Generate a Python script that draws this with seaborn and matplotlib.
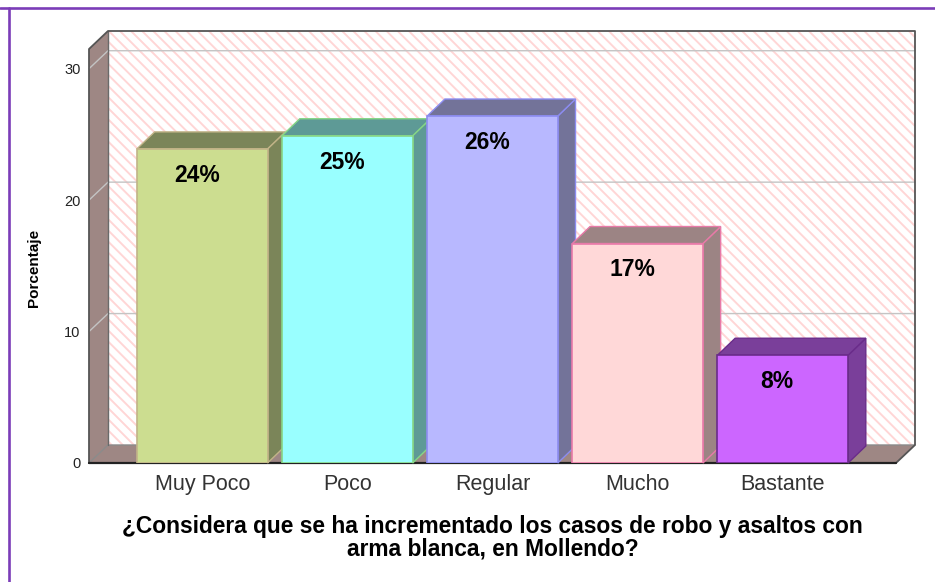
"""Grafico de barras 3D estilo SPSS: incremento de robos con arma blanca."""

import matplotlib
matplotlib.use("Agg")
import matplotlib.pyplot as plt
from matplotlib.lines import Line2D
from matplotlib.patches import Polygon, Rectangle
import seaborn as sns

categorias = ["Muy Poco", "Poco", "Regular", "Mucho", "Bastante"]
porcentajes = [23.9, 24.9, 26.4, 16.7, 8.2]
etiquetas = [f"{v:.0f}%" for v in porcentajes]
marcas_y = [0, 10, 20, 30]

color_frente = ["#CCDD90", "#99FFFF", "#B8B8FF", "#FFD8D8", "#CC66FF"]
color_lado = ["#7B8559", "#5E9A96", "#737399", "#9C8484", "#7A3F9A"]
color_borde = ["#C2B488", "#86D686", "#8C8CF0", "#E87AA8", "#6A2C8A"]
MURO = "#9E8784"
TRAMA = "#FFD6D6"
MARCO = "#7B3DB8"

sns.set_theme(style="white")
plt.rcParams["font.family"] = ["Liberation Sans", "DejaVu Sans"]
plt.rcParams["hatch.linewidth"] = 1.4

fig = plt.figure(figsize=(9.35, 5.82), dpi=100)
ax = fig.add_axes([89 / 935, 1 - 463 / 582, 807 / 935, 414 / 582])

sns.barplot(x=categorias, y=porcentajes, hue=categorias, palette=color_frente,
            saturation=1, width=0.9, legend=False, ax=ax)
ax.set_xlim(-0.78, 4.78)
ax.set_ylim(0, 31.5)


def desfase(dx_px, dy_px):
    """Convierte un desplazamiento en pixeles a unidades de datos."""
    x0, y0 = ax.transData.transform((0, 0))
    ox, oy = ax.transData.inverted().transform((x0 + dx_px, y0 + dy_px))
    return ox, oy


xl, xr = ax.get_xlim()
ytop = ax.get_ylim()[1]
wx, wy = desfase(19, 18)

# pared del fondo con trama rosada
ax.add_patch(Rectangle((xl + wx, wy), xr - xl, ytop, facecolor="white",
                       edgecolor="none", zorder=0.1, clip_on=False))
ax.add_patch(Rectangle((xl + wx, wy), xr - xl, ytop, facecolor="none", edgecolor=TRAMA,
                       hatch="\\\\\\", linewidth=0, zorder=0.2, clip_on=False))
# pared lateral y piso
ax.add_patch(Polygon([(xl, 0), (xl, ytop), (xl + wx, ytop + wy), (xl + wx, wy)],
                     facecolor=MURO, edgecolor="none", zorder=0.3, clip_on=False))
ax.add_patch(Polygon([(xl, 0), (xr, 0), (xr + wx, wy), (xl + wx, wy)],
                     facecolor=MURO, edgecolor="none", zorder=0.3, clip_on=False))

for t in marcas_y[1:]:
    ax.plot([xl, xl + wx, xr + wx], [t, t + wy, t + wy], color="#C4C4C4", lw=1,
            zorder=0.4, clip_on=False)

# aristas
ax.plot([xl, xl + wx, xr + wx], [0, wy, wy], color="#8A8A8A", lw=1, zorder=0.5, clip_on=False)
ax.plot([xl + wx, xl + wx], [wy, ytop + wy], color="#6A6A6A", lw=1, zorder=0.5, clip_on=False)
ax.plot([xl, xl, xl + wx, xr + wx, xr + wx, xr, xl],
        [0, ytop, ytop + wy, ytop + wy, wy, 0, 0],
        color="#555555", lw=1.3, zorder=0.5, clip_on=False)
ax.plot([xl, xr], [0, 0], color="#222222", lw=1.6, zorder=0.6, clip_on=False)

# barras en 3D
bx, by = desfase(17.7, 17)
for i, cont in enumerate(ax.containers):
    barra = cont.patches[0]
    x0, w, h = barra.get_x(), barra.get_width(), barra.get_height()
    barra.set_edgecolor(color_borde[i])
    barra.set_linewidth(1.2)
    barra.set_zorder(3 + 2 * i)
    ax.add_patch(Polygon([(x0 + w, 0), (x0 + w, h), (x0 + w + bx, h + by), (x0 + w + bx, by)],
                         facecolor=color_lado[i], edgecolor=color_borde[i], lw=1,
                         zorder=2 + 2 * i, clip_on=False))
    ax.add_patch(Polygon([(x0, h), (x0 + w, h), (x0 + w + bx, h + by), (x0 + bx, h + by)],
                         facecolor=color_lado[i], edgecolor=color_borde[i], lw=1,
                         zorder=2 + 2 * i, clip_on=False))

for i, (v, txt) in enumerate(zip(porcentajes, etiquetas)):
    ax.annotate(txt, (i, v), xytext=(-4, -19), textcoords="offset points", ha="center",
                va="center", fontsize=16.5, fontweight="bold", color="black", zorder=20)

ax.set_yticks(marcas_y)
ax.tick_params(axis="y", length=0, pad=6, labelsize=10.5, labelcolor="#222222")
ax.tick_params(axis="x", length=0, pad=8, labelsize=15.5, labelcolor="#333333")
sns.despine(ax=ax, left=True, bottom=True)
ax.set_xlabel("¿Considera que se ha incrementado los casos de robo y asaltos con\n"
              "arma blanca, en Mollendo?", fontsize=16.4, fontweight="bold",
              labelpad=14, linespacing=1.0, color="black")
ax.set_ylabel("Porcentaje", fontsize=11, fontweight="bold", color="black")
ax.yaxis.set_label_coords(-0.060, 0.47)

# marco morado de la imagen
fig.add_artist(Line2D([0, 1], [1 - 7.5 / 582] * 2, color=MARCO, lw=1.9))
fig.add_artist(Line2D([8.5 / 935] * 2, [0, 1 - 7.5 / 582], color=MARCO, lw=1.9))

fig.savefig("out.png", dpi=100)
